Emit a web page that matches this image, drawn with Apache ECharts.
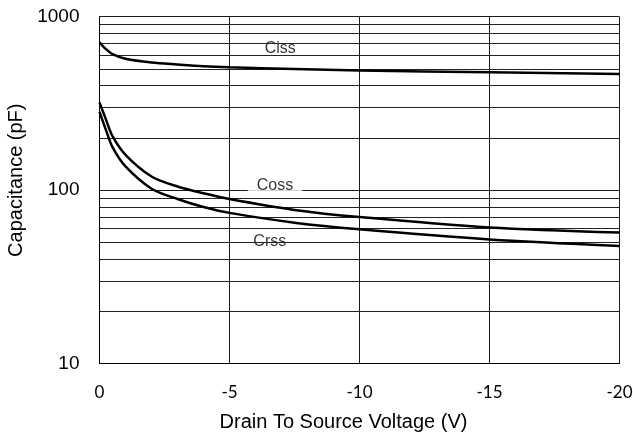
<!DOCTYPE html>
<html><head><meta charset="utf-8">
<script src="https://cdn.jsdelivr.net/npm/echarts@6/dist/echarts.min.js"></script>
<style>html,body{margin:0;padding:0;background:#fff}#c{width:633px;height:436px}</style>
</head><body><div id="c"></div>
<script>
const voltage = [0, -0.25, -0.5, -1, -2, -3, -4, -5, -7.5, -10, -15, -20];
const ciss = [712, 650, 608, 572, 544, 530, 518, 511, 500, 490, 478, 468];
const coss = [320, 255, 205, 160, 120, 105, 96, 89, 77, 70, 61, 57];
const crss = [283, 222, 177, 137, 102, 89, 80, 74, 65, 59.5, 52, 47.7];
const xTicks = [0, -5, -10, -15, -20];
const yMinorGrid = [20, 30, 40, 50, 60, 70, 80, 90, 200, 300, 400, 500, 600, 700, 800, 900];
const curveLabels = [
  { name: 'Ciss', x: -6.95, y: 657 },
  { name: 'Coss', x: -6.75, y: 107 },
  { name: 'Crss', x: -6.55, y: 50.5 }
];

const toPairs = (ys) => voltage.map((v, i) => [v, ys[i]]);

const chart = echarts.init(document.getElementById('c'), null, { renderer: 'canvas' });
chart.setOption({
  animation: false,
  backgroundColor: '#fff',
  grid: { left: 99.5, right: 13.5, top: 16.7, bottom: 72.3, containLabel: false, outerBoundsMode: 'none' },
  xAxis: {
    type: 'value', min: -20, max: 0, interval: 5, inverse: true,
    name: 'Drain To Source Voltage (V)', nameLocation: 'middle', nameGap: 49,
    nameTextStyle: { fontFamily: 'Liberation Sans, Arial', fontSize: 20, color: '#000', padding: [0, 32, 0, 0] },
    axisLine: { show: true, lineStyle: { color: '#000', width: 1 } },
    axisTick: { show: false },
    axisLabel: { fontFamily: 'Lato', fontSize: 17, color: '#000', margin: 20,
      formatter: (v) => xTicks.includes(v) ? String(v) : '' },
    splitLine: { show: true, lineStyle: { color: '#1a1a1a', width: 1 } }
  },
  yAxis: {
    type: 'log', logBase: 10, min: 10, max: 1000,
    name: 'Capacitance (pF)', nameLocation: 'middle', nameGap: 73.5,
    nameTextStyle: { fontFamily: 'Liberation Sans, Arial', fontSize: 20, color: '#000', padding: [0, 0, 0, 20] },
    axisLine: { show: true, lineStyle: { color: '#000', width: 1 } },
    axisTick: { show: false },
    axisLabel: { fontFamily: 'Liberation Sans, Arial', fontSize: 19, color: '#000', margin: 20,
      formatter: (v) => String(v) },
    splitLine: { show: true, lineStyle: { color: '#1a1a1a', width: 1 } },
    minorSplitLine: { show: false }
  },
  series: [
    {
      name: 'grid', type: 'line', data: [], silent: true,
      markLine: {
        silent: true, symbol: 'none', label: { show: false },
        lineStyle: { color: '#222', width: 1, type: 'solid' },
        data: yMinorGrid.map(v => ({ yAxis: v }))
      },
      z: 1
    },
    {
      name: 'labels', type: 'scatter', symbolSize: 0, silent: true, z: 3,
      data: curveLabels.map(l => ({ value: [l.x, l.y], name: l.name })),
      label: {
        show: true, position: 'inside', formatter: (p) => p.name,
        fontFamily: 'Liberation Sans, Arial', fontSize: 16, lineHeight: 16, color: '#000',
        backgroundColor: '#fff', padding: [8, 9, 1, 9]
      }
    },
    { name: 'Ciss', type: 'line', data: toPairs(ciss), smooth: 0.3, showSymbol: false, z: 5,
      lineStyle: { color: '#000', width: 2.5 } },
    { name: 'Coss', type: 'line', data: toPairs(coss), smooth: 0.3, showSymbol: false, z: 5,
      lineStyle: { color: '#000', width: 2.5 } },
    { name: 'Crss', type: 'line', data: toPairs(crss), smooth: 0.3, showSymbol: false, z: 5,
      lineStyle: { color: '#000', width: 2.5 } }
  ]
});
</script></body></html>
